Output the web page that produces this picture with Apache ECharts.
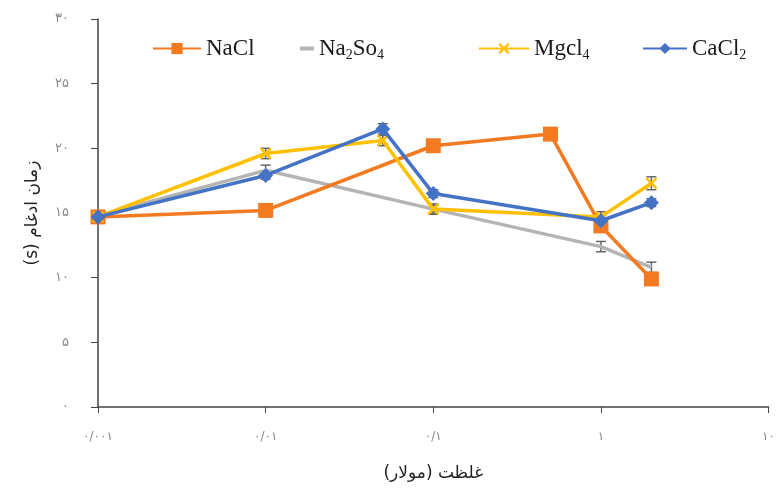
<!DOCTYPE html>
<html><head><meta charset="utf-8">
<script src="https://cdn.jsdelivr.net/npm/echarts@6/dist/echarts.min.js"></script>
<style>html,body{margin:0;padding:0;background:#fff}#c{width:778px;height:491px}</style>
</head><body><div id="c"></div>
<script>
const xNaCl = [0.001, 0.01, 0.1, 0.5, 1, 2];
const yNaCl = [14.7, 15.2, 20.2, 21.1, 14.0, 9.9];
const xNa2SO4 = [0.001, 0.01, 0.1, 1, 2];
const yNa2SO4 = [14.8, 18.3, 15.3, 12.4, 10.8];
const eNa2SO4 = [0.3, 0.4, 0.3, 0.4, 0.4];
const xMgcl4 = [0.001, 0.01, 0.05, 0.1, 1, 2];
const yMgcl4 = [14.7, 19.6, 20.6, 15.3, 14.7, 17.3];
const eMgcl4 = [0.3, 0.4, 0.4, 0.4, 0.4, 0.5];
const xCaCl2 = [0.001, 0.01, 0.05, 0.1, 1, 2];
const yCaCl2 = [14.7, 17.9, 21.5, 16.5, 14.4, 15.8];
const eCaCl2 = [0.3, 0.3, 0.4, 0.3, 0.4, 0.3];
const xTickLabels = {'0.001':'۰/۰۰۱','0.01':'۰/۰۱','0.1':'۰/۱','1':'۱','10':'۱۰'};
const yTickLabels = ['۰','۵','۱۰','۱۵','۲۰','۲۵','۳۰'];
const xName = 'غلظت (مولار)';
const yName = 'زمان ادغام (s)';

const pairs = (xs, ys) => xs.map((x, i) => [x, ys[i]]);
const errData = (xs, ys, es) => xs.map((x, i) => [x, ys[i] - es[i], ys[i] + es[i]]);
const rtl = s => '\u202B' + s + '\u202C';

const chart = echarts.init(document.getElementById('c'));
const xMark = 'path://M0,1.5L1.5,0L5,3.5L8.5,0L10,1.5L6.5,5L10,8.5L8.5,10L5,6.5L1.5,10L0,8.5L3.5,5Z';

function errSeries(data) {
  return {
    type: 'custom', silent: true, z: 1,
    renderItem: function (params, api) {
      const x = api.value(0);
      const lo = api.coord([x, api.value(1)]);
      const hi = api.coord([x, api.value(2)]);
      const w = 5;
      const st = { stroke: '#666', lineWidth: 1.5 };
      return { type: 'group', children: [
        { type: 'line', shape: { x1: lo[0], y1: lo[1], x2: hi[0], y2: hi[1] }, style: st },
        { type: 'line', shape: { x1: lo[0]-w, y1: lo[1], x2: lo[0]+w, y2: lo[1] }, style: st },
        { type: 'line', shape: { x1: hi[0]-w, y1: hi[1], x2: hi[0]+w, y2: hi[1] }, style: st }
      ]};
    },
    data: data
  };
}

const rich = {
  n: { fontFamily: 'Liberation Serif', fontSize: 23, color: '#1a1a1a' },
  s: { fontFamily: 'Liberation Serif', fontSize: 14, color: '#1a1a1a', padding: [14, 0, 0, 0] }
};
function legendAt(name, left, w, fmt, extra) {
  return Object.assign({
    data: [name], left: left, top: 32, itemWidth: w, itemHeight: 14, itemGap: 0,
    formatter: fmt, textStyle: { rich: rich }
  }, extra || {});
}

chart.setOption({
  animation: false,
  legend: [
    legendAt('NaCl', 147, 48, () => '{n|NaCl}'),
    legendAt('Na2SO4', 295, 14, () => '{n|Na}{s|2}{n|So}{s|4}', { icon: 'rect', itemHeight: 4 }),
    legendAt('Mgcl4', 473, 50, () => '{n|Mgcl}{s|4}'),
    legendAt('CaCl2', 637, 44, () => '{n|CaCl}{s|2}')
  ],
  grid: { left: 98, right: 5, top: 19, bottom: 84 },
  xAxis: {
    type: 'log', logBase: 10, min: 0.001, max: 10,
    name: rtl(xName), nameLocation: 'middle', nameGap: 58,
    nameTextStyle: { fontFamily: 'DejaVu Sans', fontSize: 17, color: '#222' },
    axisLine: { lineStyle: { color: '#444', width: 1.5 } },
    axisTick: { show: true, length: 6, lineStyle: { color: '#444' } },
    splitLine: { show: false },
    minorTick: { show: false },
    axisLabel: {
      margin: 24, fontFamily: 'DejaVu Sans', fontSize: 12, color: '#888',
      formatter: v => xTickLabels[String(+v.toPrecision(3))] || ''
    }
  },
  yAxis: {
    type: 'value', min: 0, max: 30, interval: 5,
    name: rtl(yName), nameLocation: 'middle', nameGap: 57, nameRotate: 90,
    nameTextStyle: { fontFamily: 'DejaVu Sans', fontSize: 17, color: '#222' },
    axisLine: { show: true, lineStyle: { color: '#444', width: 1.5 } },
    axisTick: { show: true, length: 7, lineStyle: { color: '#444' } },
    splitLine: { show: false },
    axisLabel: {
      margin: 29, fontFamily: 'DejaVu Sans', fontSize: 13, color: '#888',
      formatter: v => yTickLabels[Math.round(v / 5)]
    }
  },
  series: [
    errSeries(errData(xNa2SO4, yNa2SO4, eNa2SO4)),
    errSeries(errData(xMgcl4, yMgcl4, eMgcl4)),
    errSeries(errData(xCaCl2, yCaCl2, eCaCl2)),
    { name: 'NaCl', type: 'line', data: pairs(xNaCl, yNaCl), color: '#F47A22',
      lineStyle: { width: 3.5 }, symbol: 'rect', symbolSize: 15, z: 3 },
    { name: 'Na2SO4', type: 'line', data: pairs(xNa2SO4, yNa2SO4), color: '#B4B4B4',
      lineStyle: { width: 3.5 }, symbol: 'none', z: 2 },
    { name: 'Mgcl4', type: 'line', data: pairs(xMgcl4, yMgcl4), color: '#FFC000',
      lineStyle: { width: 3.5 }, symbol: xMark, symbolSize: 12, z: 4 },
    { name: 'CaCl2', type: 'line', data: pairs(xCaCl2, yCaCl2), color: '#4472C4',
      lineStyle: { width: 3.5 }, symbol: 'diamond', symbolSize: 15, z: 5 }
  ]
});
</script></body></html>
